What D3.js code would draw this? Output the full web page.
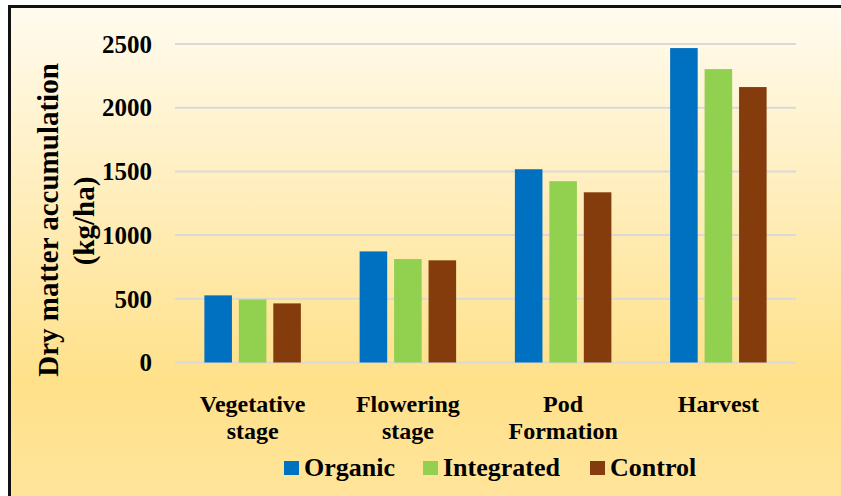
<script src="https://d3js.org/d3.v7.min.js"></script>
<style>
  body { margin: 0; background: #fff; }
  text { font-family: "Liberation Serif", "Times New Roman", serif; font-weight: bold; fill: #000; }
</style>
<svg width="841" height="496"></svg>
<script>
const categories = [["Vegetative", "stage"], ["Flowering", "stage"], ["Pod", "Formation"], ["Harvest"]];
const series = ["Organic", "Integrated", "Control"];
const organic = [527, 872, 1517, 2468];
const integrated = [495, 812, 1423, 2303];
const control = [464, 802, 1336, 2162];
const yTicks = [0, 500, 1000, 1500, 2000, 2500];
const colors = ["#0070C0", "#92D050", "#843C0C"];

const values = [organic, integrated, control];
const svg = d3.select("svg");
const defs = svg.append("defs");

const grad = defs.append("linearGradient")
    .attr("id", "bg").attr("x1", 0).attr("y1", 0).attr("x2", 0).attr("y2", 1);
grad.append("stop").attr("offset", "0%").attr("stop-color", "#fffbef");
grad.append("stop").attr("offset", "75%").attr("stop-color", "#ffe18a");
grad.append("stop").attr("offset", "100%").attr("stop-color", "#ffe59c");

// frame
svg.append("rect")
    .attr("x", 9.5).attr("y", 6.5)
    .attr("width", 850).attr("height", 500)
    .attr("fill", "url(#bg)")
    .attr("stroke", "#111").attr("stroke-width", 3);

const left = 175, right = 796;
const y = d3.scaleLinear().domain([0, 2500]).range([362.5, 44]);
const x0 = d3.scaleBand().domain(d3.range(categories.length)).range([left, right]);
const groupW = 96.5;
const x1 = d3.scaleBand().domain(series).range([0, groupW]).paddingInner(0.2);
const offset = (x0.bandwidth() - groupW) / 2;

// gridlines
svg.append("g")
  .selectAll("line")
  .data(yTicks)
  .join("line")
    .attr("x1", left).attr("x2", right)
    .attr("y1", d => y(d)).attr("y2", d => y(d))
    .attr("stroke", "#d9d9d9")
    .attr("stroke-width", 2);

// y tick labels
svg.append("g")
  .selectAll("text")
  .data(yTicks)
  .join("text")
    .attr("x", 152)
    .attr("y", d => y(d))
    .attr("dy", "0.35em")
    .attr("text-anchor", "end")
    .style("font-size", "25px")
    .text(d => d);

// bars
const groups = svg.append("g")
  .selectAll("g")
  .data(categories.map((c, i) => i))
  .join("g")
    .attr("transform", i => `translate(${x0(i) + offset},0)`);

groups.selectAll("rect")
  .data(i => series.map((s, k) => ({s, k, v: values[k][i]})))
  .join("rect")
    .attr("x", d => x1(d.s))
    .attr("width", x1.bandwidth())
    .attr("y", d => y(d.v))
    .attr("height", d => y(0) - y(d.v))
    .attr("fill", d => colors[d.k]);

// category labels
svg.append("g")
  .selectAll("text")
  .data(categories)
  .join("text")
    .attr("x", (d, i) => x0(i) + x0.bandwidth() / 2)
    .attr("y", 412)
    .attr("text-anchor", "middle")
    .style("font-size", "24px")
  .selectAll("tspan")
  .data(d => d)
  .join("tspan")
    .attr("x", function() { return this.parentNode.getAttribute("x"); })
    .attr("dy", (d, i) => i ? 27 : 0)
    .text(d => d);

// y axis title
svg.append("text")
    .attr("transform", "translate(58,220) rotate(-90)")
    .attr("text-anchor", "middle")
    .style("font-size", "29px")
    .text("Dry matter accumulation");
svg.append("text")
    .attr("transform", "translate(94,221) rotate(-90)")
    .attr("text-anchor", "middle")
    .style("font-size", "29px")
    .text("(kg/ha)");

// legend
const legendX = [284, 423, 590];
const leg = svg.append("g")
  .selectAll("g")
  .data(series)
  .join("g")
    .attr("transform", (d, i) => `translate(${legendX[i]},0)`);
leg.append("rect")
    .attr("y", 461).attr("width", 15).attr("height", 14)
    .attr("fill", (d, i) => colors[i]);
leg.append("text")
    .attr("x", 20).attr("y", 476)
    .style("font-size", "26px")
    .text(d => d);
</script>
